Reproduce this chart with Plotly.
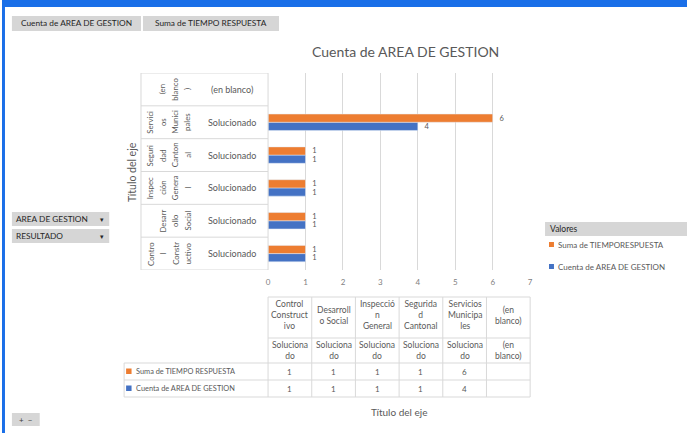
import plotly.graph_objects as go

# ---------------- data ----------------
CATEGORIES = ["Control Constructivo", "Desarrollo Social", "Inspección General",
              "Seguridad Cantonal", "Servicios Municipales", "(en blanco)"]
RESULTADO = ["Solucionado", "Solucionado", "Solucionado", "Solucionado", "Solucionado", "(en blanco)"]
SUMA_TIEMPO = [1, 1, 1, 1, 6, None]
CUENTA_AREA = [1, 1, 1, 1, 4, None]
X_TICKS = [0, 1, 2, 3, 4, 5, 6, 7]
# wrapped tick labels as they appear on the category axis (rotated) and in the data table
AREA_AXIS_LINES = [["Contro", "l", "Constr", "uctivo"], ["Desarr", "ollo", "Social"],
                   ["Inspec", "ción", "Genera", "l"], ["Seguri", "dad", "Canton", "al"],
                   ["Servici", "os", "Munici", "pales"], ["(en", "blanco", ")"]]
AREA_TABLE_LINES = [["Control", "Construct", "ivo"], ["Desarroll", "o Social"],
                    ["Inspecció", "n", "General"], ["Segurida", "d", "Cantonal"],
                    ["Servicios", "Municipa", "les"], ["(en", "blanco)"]]
RESULT_TABLE_LINES = [["Soluciona", "do"]] * 5 + [["(en", "blanco)"]]
SERIES_SUMA = "Suma de TIEMPO RESPUESTA"
SERIES_CUENTA = "Cuenta de AREA DE GESTION"
LEGEND_SUMA = "Suma de TIEMPORESPUESTA"
TITLE = "Cuenta de AREA DE GESTION"
AXIS_TITLE = "Título del eje"

# ---------------- style / geometry ----------------
W, H = 690, 433
PX0, PX1 = 268, 532
PY0, PY1 = 73, 270
ORANGE = "#ED7D31"
BLUE = "#4472C4"
GRID = "#d9d9d9"
TXT = "#595959"
FONT = "Lato"


def fx(x):
    return x / W


def fy(y):
    return 1 - y / H


fig = go.Figure()
fig.add_trace(go.Bar(y=CATEGORIES, x=CUENTA_AREA, orientation="h", name=SERIES_CUENTA,
                     marker_color=BLUE,
                     text=["" if v is None else str(v) for v in CUENTA_AREA],
                     texttemplate="\u2002%{text}",
                     textposition="outside", constraintext="none", cliponaxis=False,
                     textfont=dict(size=7.5, color=TXT, family=FONT)))
fig.add_trace(go.Bar(y=CATEGORIES, x=SUMA_TIEMPO, orientation="h", name=SERIES_SUMA,
                     marker_color=ORANGE,
                     text=["" if v is None else str(v) for v in SUMA_TIEMPO],
                     texttemplate="\u2002%{text}",
                     textposition="outside", constraintext="none", cliponaxis=False,
                     textfont=dict(size=7.5, color=TXT, family=FONT)))

shapes = []
ann = []


def rect(x0, y0, x1, y1, fill, line=None):
    shapes.append(dict(type="rect", xref="paper", yref="paper",
                       x0=fx(x0), x1=fx(x1), y0=fy(y1), y1=fy(y0),
                       fillcolor=fill, line=dict(width=0 if line is None else 1,
                                                 color=line or fill), layer="below"))


def hline(x0, x1, y, color=GRID):
    shapes.append(dict(type="line", xref="paper", yref="paper", x0=fx(x0), x1=fx(x1),
                       y0=fy(y), y1=fy(y), line=dict(color=color, width=1)))


def vline(x, y0, y1, color=GRID):
    shapes.append(dict(type="line", xref="paper", yref="paper", x0=fx(x), x1=fx(x),
                       y0=fy(y0), y1=fy(y1), line=dict(color=color, width=1)))


def text(x, y, s, size=8, color=TXT, xanchor="center", angle=0, yanchor="middle"):
    ann.append(dict(xref="paper", yref="paper", x=fx(x), y=fy(y), text=s, showarrow=False,
                    xanchor=xanchor, yanchor=yanchor, textangle=angle,
                    font=dict(size=size, color=color, family=FONT)))


# window frame
rect(0, 0, W, 7, "#1a6fe8")
rect(0, 0, 3, H, "#1a6fe8")

# pivot field buttons (top)
rect(10, 16, 140, 31, "#d6d6d6")
rect(142, 16, 279, 31, "#d6d6d6")
text(75, 23.5, SERIES_CUENTA, size=8.3, color="#262626")
text(210.5, 23.5, SERIES_SUMA, size=8.3, color="#262626")

# axis field buttons (left)
rect(10, 212, 108, 226, "#d6d6d6")
rect(10, 229, 108, 243, "#d6d6d6")
text(12, 219, "AREA DE GESTION", size=8.3, color="#262626", xanchor="left")
text(101, 219, "▾", size=7, color="#262626")
text(12, 236, "RESULTADO", size=8.3, color="#262626", xanchor="left")
text(101, 236, "▾", size=7, color="#262626")

# zoom button
rect(10, 413, 38, 426, "#d6d6d6")
text(24, 419.5, "+  −", size=8, color="#404040")

# title and axis titles
text(406, 52, TITLE, size=14)
text(131, 172, AXIS_TITLE, size=10.5, angle=-90)
text(400, 412, AXIS_TITLE, size=10)

# multi-level category axis labels
rows = len(CATEGORIES)
for i, cat in enumerate(CATEGORIES):
    lines = AREA_AXIS_LINES[i]
    n = len(lines)
    for k, ln in enumerate(lines):
        xk = 187 - (n - 1 - k) * 12.5
        ann.append(dict(xref="paper", yref="y", x=fx(xk), y=cat, text=ln, showarrow=False,
                        textangle=-90, xanchor="center", yanchor="middle",
                        font=dict(size=7.8, color=TXT, family=FONT)))
    ann.append(dict(xref="paper", yref="y", x=fx(232), y=cat, text=RESULTADO[i],
                    showarrow=False, xanchor="center", yanchor="middle",
                    font=dict(size=9, color=TXT, family=FONT)))
for i in range(rows + 1):
    shapes.append(dict(type="line", xref="paper", yref="y", x0=fx(140), x1=fx(PX0),
                       y0=i - 0.5, y1=i - 0.5, line=dict(color=GRID, width=1)))
vline(140, PY0, PY1)
vline(PX0, PY0, PY1)

# data table
TY = [297, 338, 363, 380, 397]
colw = (PX1 - PX0) / rows
hline(PX0, PX1, TY[0])
hline(PX0, PX1, TY[1])
hline(123, PX1, TY[2])
hline(123, PX1, TY[3])
hline(123, PX1, TY[4])
vline(123, TY[2], TY[4])
for j in range(rows + 1):
    vline(PX0 + j * colw, TY[0], TY[4])
for i in range(rows):
    cx = PX0 + (i + 0.5) * colw
    text(cx, 315, "<br>".join(AREA_TABLE_LINES[i]), size=8.5)
    text(cx, 350, "<br>".join(RESULT_TABLE_LINES[i]), size=8.5)
    text(cx, (TY[2] + TY[3]) / 2, "" if SUMA_TIEMPO[i] is None else str(SUMA_TIEMPO[i]), size=8)
    text(cx, (TY[3] + TY[4]) / 2, "" if CUENTA_AREA[i] is None else str(CUENTA_AREA[i]), size=8)
rect(125, 368.5, 130.5, 374, ORANGE)
rect(125, 385.5, 130.5, 391, BLUE)
text(133, 371.5, SERIES_SUMA, size=7.4, xanchor="left")
text(133, 388.5, SERIES_CUENTA, size=7.4, xanchor="left")

# legend (right)
rect(547, 222, 690, 236, "#d6d6d6")
text(550, 229, "Valores", size=8.5, color="#262626", xanchor="left")
rect(551, 242, 556, 247, ORANGE)
rect(551, 264, 556, 269, BLUE)
text(558, 244.5, LEGEND_SUMA, size=8, xanchor="left")
text(558, 266.5, SERIES_CUENTA, size=8, xanchor="left")

fig.update_layout(
    width=W, height=H, autosize=False,
    margin=dict(l=0, r=0, t=0, b=0),
    paper_bgcolor="white", plot_bgcolor="white",
    barmode="group", bargap=0.5, bargroupgap=0,
    showlegend=False,
    shapes=shapes, annotations=ann,
    font=dict(family=FONT, color=TXT),
    xaxis=dict(domain=[fx(PX0), fx(PX1)], range=[0, 7], tickvals=X_TICKS,
               showgrid=True, gridcolor=GRID, zeroline=False, showline=False,
               tickfont=dict(size=8, color="#7f7f7f", family=FONT), ticks="",
               ticklabelstandoff=6, fixedrange=True),
    yaxis=dict(domain=[fy(PY1), fy(PY0)], type="category", categoryorder="array",
               categoryarray=CATEGORIES, range=[-0.5, rows - 0.5],
               showticklabels=False, showgrid=False, zeroline=False, showline=False,
               ticks="", fixedrange=True),
)

fig.write_html("out.html", config={"displayModeBar": False},
               post_script="document.body.style.margin='0';document.body.style.padding='0';"
                           "document.body.style.overflow='hidden';")
